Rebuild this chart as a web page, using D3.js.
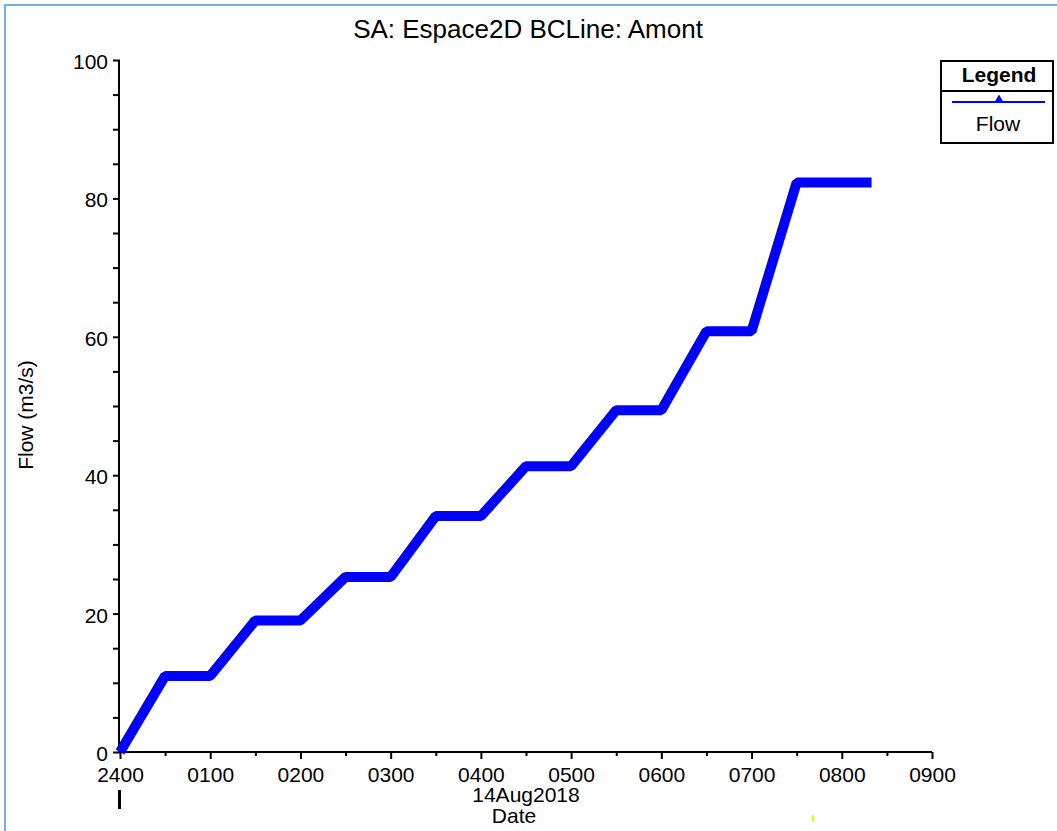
<!DOCTYPE html>
<html>
<head>
<meta charset="utf-8">
<script src="https://cdn.jsdelivr.net/npm/d3@7"></script>
<style>
  body { margin: 0; background: #fff; }
  svg { display: block; font-family: "Liberation Sans", Arial, sans-serif; }
</style>
</head>
<body>
<div id="chart"></div>
<script>
// data (hours after 2400, flow in m3/s)
const hours = [0, 0.5, 1.0, 1.5, 2.0, 2.5, 3.0, 3.5, 4.0, 4.5, 5.0, 5.5, 6.0, 6.5, 7.0, 7.5, 8.33];
const flow = [0, 11.0, 11.0, 19.0, 19.0, 25.3, 25.3, 34.1, 34.1, 41.3, 41.3, 49.4, 49.4, 60.8, 60.8, 82.3, 82.3];
const xTickLabels = ["2400", "0100", "0200", "0300", "0400", "0500", "0600", "0700", "0800", "0900"];
const yTicks = [0, 20, 40, 60, 80, 100];

const width = 1057;
const height = 831;
const plotLeft = 120, plotRight = 932, plotTop = 60, plotBottom = 752;

const svg = d3.select("div#chart").append("svg")
    .attr("width", width)
    .attr("height", height);

svg.append("rect").attr("width", width).attr("height", height).attr("fill", "#fff");

// window frame
svg.append("path")
    .attr("d", "M5," + height + "V5H" + width)
    .attr("fill", "none")
    .attr("stroke", "#7aaee0")
    .attr("stroke-width", 2);

const x = d3.scaleLinear().domain([0, 9]).range([plotLeft, plotRight]);
const y = d3.scaleLinear().domain([0, 100]).range([plotBottom, plotTop]);

// title
svg.append("text")
    .attr("x", 528).attr("y", 38)
    .attr("text-anchor", "middle")
    .attr("font-size", 26)
    .text("SA: Espace2D BCLine: Amont");

// y axis
const yaxis = d3.axisLeft(y)
    .tickValues(d3.range(0, 101, 5))
    .tickSize(7)
    .tickFormat(d => yTicks.includes(d) ? d : "");
const gy = svg.append("g")
    .attr("transform", "translate(" + plotLeft + ",0)")
    .call(yaxis);
gy.select(".domain").attr("stroke-width", 2).attr("d", "M-1," + plotTop + "V" + (plotBottom + 1));
gy.selectAll(".tick line").attr("stroke-width", 2);
gy.selectAll(".tick text").attr("font-size", 21).attr("font-family", "Liberation Sans, Arial, sans-serif")
    .attr("fill", "#000").attr("x", -12).attr("dy", "0.4em");

// x axis
const xaxis = d3.axisBottom(x)
    .tickValues(d3.range(0, 9.01, 0.5))
    .tickSize(7)
    .tickFormat(d => Number.isInteger(d) ? xTickLabels[d] : "");
const gx = svg.append("g")
    .attr("transform", "translate(0," + plotBottom + ")")
    .call(xaxis);
gx.select(".domain").attr("stroke-width", 2).attr("d", "M" + (plotLeft - 1) + ",0H" + plotRight);
gx.selectAll(".tick line").attr("stroke-width", 2)
    .attr("y2", d => Number.isInteger(d) ? 7 : 4);
gx.selectAll(".tick text").attr("font-size", 21).attr("font-family", "Liberation Sans, Arial, sans-serif")
    .attr("fill", "#000").attr("y", 15);

svg.append("text")
    .attr("x", 526).attr("y", 802)
    .attr("text-anchor", "middle")
    .attr("font-size", 21)
    .text("14Aug2018");
svg.append("text")
    .attr("x", 514).attr("y", 823)
    .attr("text-anchor", "middle")
    .attr("font-size", 21)
    .text("Date");

// y label
svg.append("text")
    .attr("transform", "translate(33,415) rotate(-90)")
    .attr("text-anchor", "middle")
    .attr("font-size", 21)
    .text("Flow (m3/s)");

// small marks under the axis
svg.append("rect").attr("x", 118).attr("y", 790).attr("width", 3).attr("height", 19).attr("fill", "#000");
svg.append("rect").attr("x", 812).attr("y", 815).attr("width", 2).attr("height", 7).attr("fill", "#ffee00");

// series
const pts = hours.map((h, i) => [h, flow[i]]);
const line = d3.line().x(d => x(d[0])).y(d => y(d[1]));
svg.append("path")
    .datum(pts)
    .attr("d", line)
    .attr("fill", "none")
    .attr("stroke", "#0000ff")
    .attr("stroke-width", 10)
    .attr("stroke-linejoin", "bevel")
    .attr("stroke-linecap", "butt");

// legend
const lg = svg.append("g");
lg.append("rect")
    .attr("x", 941).attr("y", 61).attr("width", 112).attr("height", 82)
    .attr("fill", "#fff").attr("stroke", "#000").attr("stroke-width", 2);
lg.append("line")
    .attr("x1", 941).attr("x2", 1053).attr("y1", 91).attr("y2", 91)
    .attr("stroke", "#000").attr("stroke-width", 2);
lg.append("text")
    .attr("x", 999).attr("y", 82)
    .attr("text-anchor", "middle")
    .attr("font-size", 21).attr("font-weight", "bold")
    .text("Legend");
lg.append("line")
    .attr("x1", 952).attr("x2", 1045).attr("y1", 102).attr("y2", 102)
    .attr("stroke", "#0000ff").attr("stroke-width", 2);
lg.append("path")
    .attr("d", d3.symbol(d3.symbolTriangle, 40)())
    .attr("transform", "translate(999,100)")
    .attr("fill", "#0000ff");
lg.append("text")
    .attr("x", 998).attr("y", 131)
    .attr("text-anchor", "middle")
    .attr("font-size", 21)
    .text("Flow");
</script>
</body>
</html>
